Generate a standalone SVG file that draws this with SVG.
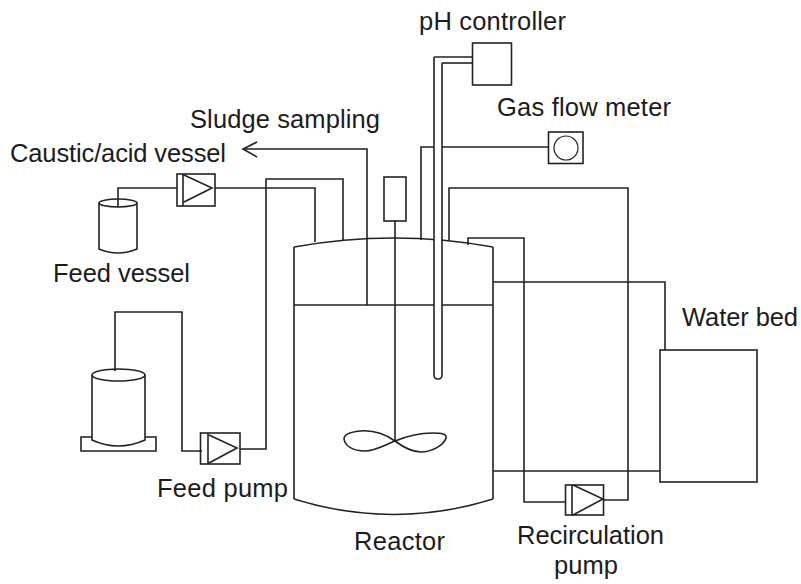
<svg xmlns="http://www.w3.org/2000/svg" width="801" height="584" viewBox="0 0 801 584">
<style>
.l{fill:none;stroke:#222;stroke-width:1.6;stroke-linejoin:miter}
text{font-family:"Liberation Sans",Arial,sans-serif;font-size:25.500px;fill:#1c1c1c}
</style>
<rect width="801" height="584" fill="#fff"/>
<g id="connectors" class="l">
<path d="M243 149H367V305"/>
<path d="M257 142L243 149L257 157"/>
<path d="M118 207V188H177"/>
<path d="M215 188H315V242"/>
<path d="M240 449H266V179H343V240"/>
<path d="M115 371V312H182V451H202"/>
<path d="M421 240V147H434"/>
<path d="M442 147H548"/>
<path d="M449 241V188H628V500H603"/>
<path d="M468 245V238H524V502H565"/>
<path d="M493 282H665V350"/>
<path d="M493 471H660"/>
<path d="M442 63H472"/>
<path d="M434 57H472"/>
</g>
<g id="reactor" class="l">
<path d="M294 247V499 M493 247V499"/>
<path d="M294 247Q394 229 493 247"/>
<path d="M294 305H493"/>
<path d="M294 499Q394 530 493 499"/>
</g>
<g id="ph-controller"><rect class="l" x="472.500" y="43" width="39" height="42"/></g>
<g id="ph-probe"><path class="l" d="M434 57V375Q434 379 438 379Q442 379 442 375V63" style="fill:#fff"/></g>
<g id="gas-flow-meter"><rect class="l" x="548.500" y="132" width="34.500" height="31.500"/><circle class="l" cx="566" cy="148" r="12" style="stroke-width:1.200"/></g>
<g id="stirrer" class="l">
<rect x="384" y="177" width="22" height="44"/>
<path d="M395 221V441"/>
<path d="M395 441C385 434 372 430 360 431C350 432 344 435 344 439C345 446 353 451 365 451C375 451 385 445 395 441C405 437 418 433 432 433C442 433 447 434 446 438C444 445 432 452 421 452C411 452 403 447 395 441Z"/>
</g>
<g id="caustic-pump" class="l"><rect x="177" y="174" width="38" height="32"/><path d="M183 174V206M184 175L212 188L184 202"/></g>
<g id="feed-pump" class="l"><rect x="200.500" y="433" width="39.500" height="31"/><path d="M208 433V464M209 435L237 448L209 463"/></g>
<g id="recirculation-pump" class="l"><rect x="565.500" y="485" width="38" height="30"/><path d="M572 485V515M573 485L603 499L573 515"/></g>
<g id="caustic-vessel" class="l"><ellipse cx="118" cy="203" rx="19" ry="4"/><path d="M99 203V249Q118 257 137 249V203"/></g>
<g id="feed-vessel" class="l"><ellipse cx="118.500" cy="375" rx="26.500" ry="6"/><path d="M92 375V440Q118 452 145 440V375"/><path d="M92 437H81V451H156V437H145"/></g>
<g id="water-bed"><rect class="l" x="660" y="350" width="97" height="132"/></g>
<g id="labels">
<text x="419" y="30" textLength="147">pH controller</text>
<text x="497" y="116" textLength="174">Gas flow meter</text>
<text x="190" y="128" textLength="190">Sludge sampling</text>
<text x="10" y="162" textLength="216">Caustic/acid vessel</text>
<text x="53" y="282" textLength="137">Feed vessel</text>
<text x="157" y="497" textLength="131">Feed pump</text>
<text x="354" y="550" textLength="91">Reactor</text>
<text x="517" y="544" textLength="147">Recirculation</text>
<text x="554" y="574" textLength="64">pump</text>
<text x="682" y="326" textLength="116">Water bed</text>
</g>
</svg>
